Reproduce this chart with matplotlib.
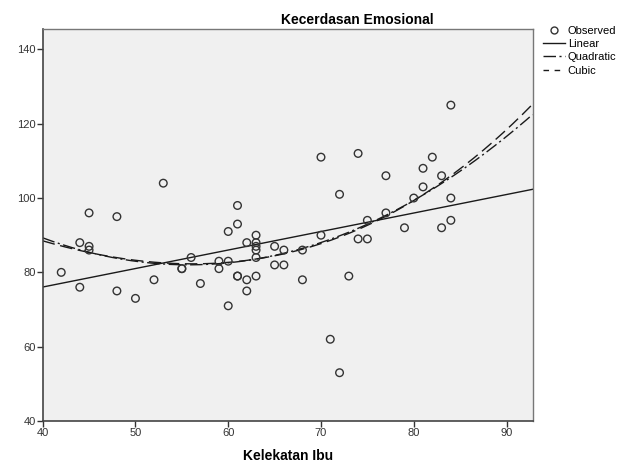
"""
Kecerdasan Emosional vs Kelekatan Ibu - curve estimation (SPSS style).
"""

import numpy as np
import matplotlib
matplotlib.use("Agg")
import matplotlib.pyplot as plt
from matplotlib.lines import Line2D

plt.rcParams["font.family"] = ["Liberation Sans", "DejaVu Sans"]

# ---------------------------------------------------------------------------
# Data
# ---------------------------------------------------------------------------
kelekatan_ibu = [
    42, 44, 44, 45, 45, 45, 48, 48, 50, 52, 53, 55, 55, 56, 57, 59, 59,
    60, 60, 60, 61, 61, 61, 61, 62, 62, 62, 63, 63, 63, 63, 63, 63, 65,
    65, 66, 66, 68, 68, 70, 70, 71, 72, 72, 73, 74, 74, 75, 75, 77, 77,
    79, 80, 81, 81, 82, 83, 83, 84, 84, 84,
]
kecerdasan_emosional = [
    80, 88, 76, 87, 86, 96, 95, 75, 73, 78, 104, 81, 81, 84, 77, 83, 81,
    83, 91, 71, 98, 93, 79, 79, 88, 78, 75, 90, 88, 87, 86, 84, 79, 87,
    82, 86, 82, 86, 78, 111, 90, 62, 101, 53, 79, 112, 89, 94, 89, 106, 96,
    92, 100, 108, 103, 111, 106, 92, 125, 100, 94,
]
x_ticks = [40, 50, 60, 70, 80, 90]
y_ticks = [40, 60, 80, 100, 120, 140]
x_range = (40, 92.8)
y_range = (40, 145.4)

# model terms (powers of x); SPSS drops the x^2 term of the cubic model
model_terms = {
    "Linear": [0, 1],
    "Quadratic": [0, 1, 2],
    "Cubic": [0, 1, 3],
}
model_styles = {
    "Linear": "-",
    "Quadratic": (0, (9, 2.5, 1.5, 2.5)),
    "Cubic": (0, (9, 4)),
}

# ---------------------------------------------------------------------------
# Curve estimation (least squares fits of the observed data)
# ---------------------------------------------------------------------------
x_obs = np.array(kelekatan_ibu, dtype=float)
y_obs = np.array(kecerdasan_emosional, dtype=float)
x_fit = np.linspace(x_range[0], x_range[1], 300)


def fit_curve(powers):
    design = np.column_stack([x_obs ** p for p in powers])
    coef, *_ = np.linalg.lstsq(design, y_obs, rcond=None)
    return np.column_stack([x_fit ** p for p in powers]) @ coef


fig = plt.figure(figsize=(6.25, 4.69), dpi=100)
ax = fig.add_axes([0.0683, 0.1023, 0.7837, 0.8352])
ax.set_facecolor("#F0F0F0")

ax.scatter(x_obs, y_obs, s=30, facecolors="none", edgecolors="#333333",
           linewidths=1.0, zorder=3)
for name, powers in model_terms.items():
    ax.plot(x_fit, fit_curve(powers), color="#1a1a1a", lw=1.0,
            ls=model_styles[name])

ax.set_xlim(*x_range)
ax.set_ylim(*y_range)
ax.set_xticks(x_ticks)
ax.set_yticks(y_ticks)
ax.tick_params(direction="out", length=4, width=1, labelsize=8,
               colors="#333333", pad=1)
for side in ("left", "bottom"):
    ax.spines[side].set_color("#444444")
    ax.spines[side].set_linewidth(1.2)
for side in ("top", "right"):
    ax.spines[side].set_color("#777777")
    ax.spines[side].set_linewidth(1.0)

fig.text(0.572, 0.958, "Kecerdasan Emosional", ha="center", va="center",
         fontsize=10, fontweight="bold")
ax.set_xlabel("Kelekatan Ibu", fontsize=10, fontweight="bold", labelpad=8)

handles = [
    Line2D([], [], ls="none", marker="o", markersize=5, markerfacecolor="none",
           markeredgecolor="#333333", label="Observed"),
    Line2D([], [], color="#1a1a1a", lw=1.0, ls="-", label="Linear"),
    Line2D([], [], color="#1a1a1a", lw=1.0, ls=(0, (9, 2.5, 1.5, 2.5)), label="Quadratic"),
    Line2D([], [], color="#1a1a1a", lw=1.0, ls=(0, (4, 4)), label="Cubic"),
]
fig.legend(handles=handles, loc="upper left", bbox_to_anchor=(0.862, 0.955),
           frameon=False, fontsize=8, handlelength=2.0, handletextpad=0.2,
           labelspacing=0.3, borderaxespad=0)

fig.savefig("out.png", dpi=100)
